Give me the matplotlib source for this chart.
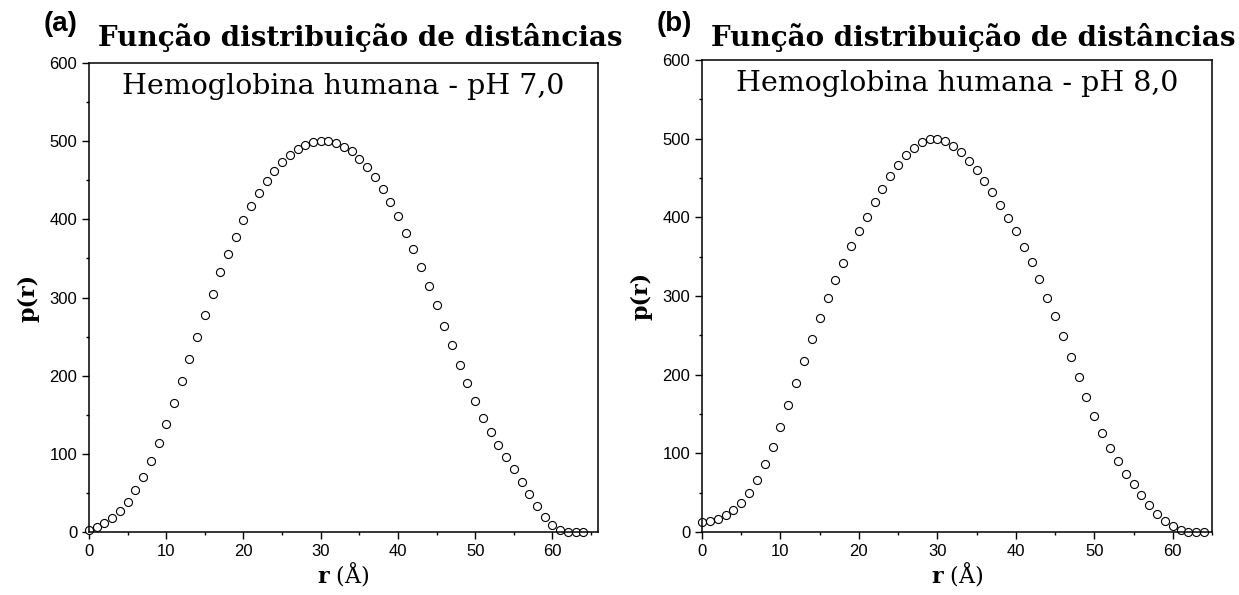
import numpy as np
import matplotlib
matplotlib.use("Agg")
import matplotlib.pyplot as plt

# distance distribution p(r)
r = list(range(0, 65))
p_ph7 = [3, 6, 12, 18, 27, 39, 54, 71, 91, 114, 138, 165, 193, 221, 250, 278,
         305, 332, 356, 378, 399, 417, 434, 449, 462, 473, 482, 490, 495, 499,
         500, 500, 498, 493, 487, 477, 467, 454, 439, 422, 404, 383, 362, 339,
         315, 290, 264, 239, 214, 190, 167, 146, 128, 111, 96, 80, 64, 48, 33,
         19, 9, 3, 0, 0, 0]
p_ph8 = [13, 14, 17, 21, 28, 37, 50, 66, 86, 108, 134, 162, 190, 218, 245, 272,
         297, 320, 342, 363, 382, 400, 419, 436, 452, 466, 479, 488, 496, 499,
         499, 497, 491, 483, 472, 460, 446, 432, 416, 399, 382, 362, 343, 321,
         298, 274, 249, 222, 197, 172, 148, 126, 107, 90, 74, 61, 47, 34, 23,
         14, 7, 3, 0, 0, 0]

labels = ["(a)", "(b)"]
titles = ["Função distribuição de distâncias", "Função distribuição de distâncias"]
notes = ["Hemoglobina humana - pH 7,0", "Hemoglobina humana - pH 8,0"]
xmax = [65.9, 65]

plt.rcParams['mathtext.fontset'] = 'dejavuserif'

fig = plt.figure(figsize=(12.39, 5.95), dpi=100)
W, H = 1239, 595
# axes boxes in pixels: left, right, top, bottom
boxes = [(89, 598, 63, 532), (702, 1212, 60, 532)]

for i, y in enumerate([p_ph7, p_ph8]):
    l, rr, t, b = boxes[i]
    ax = fig.add_axes([l / W, (H - b) / H, (rr - l) / W, (b - t) / H])
    ax.plot(r, y, 'o', mfc='white', mec='black', ms=5.8, mew=0.8, clip_on=False)
    ax.set_xlim(0, xmax[i])
    ax.set_ylim(0, 600)
    ax.set_xticks([0, 10, 20, 30, 40, 50, 60])
    ax.set_xticks(np.arange(5, 66, 10), minor=True)
    ax.set_yticks([0, 100, 200, 300, 400, 500, 600])
    ax.set_yticks(np.arange(50, 600, 100), minor=True)
    ax.tick_params(which='both', direction='out', top=False, right=False,
                   width=1.0, labelsize=12)
    ax.tick_params(which='major', length=5)
    ax.tick_params(which='minor', length=2.5)
    for lab in ax.get_xticklabels() + ax.get_yticklabels():
        lab.set_family('Liberation Sans')
    for s in ax.spines.values():
        s.set_linewidth(1.1)
    ax.set_ylabel("p(r)", family='DejaVu Serif', fontweight='bold', fontsize=16, labelpad=7)
    ax.set_xlabel(r"$\mathbf{r}$ (Å)", family='DejaVu Serif', fontsize=16, labelpad=1)
    ax.text(0.5, 0.978, notes[i], transform=ax.transAxes, ha='center', va='top',
            family='DejaVu Serif', fontsize=20.5)
    # panel letter and title above the axes
    fig.text((l - 45) / W, 1 - 24 / H, labels[i], family='Liberation Sans',
             fontweight='bold', fontsize=20, ha='left', va='center')
    fig.text((l + 9) / W, 1 - 46 / H, titles[i], family='DejaVu Serif',
             fontweight='bold', fontsize=20, ha='left', va='baseline')

fig.savefig("out.png", dpi=100)
